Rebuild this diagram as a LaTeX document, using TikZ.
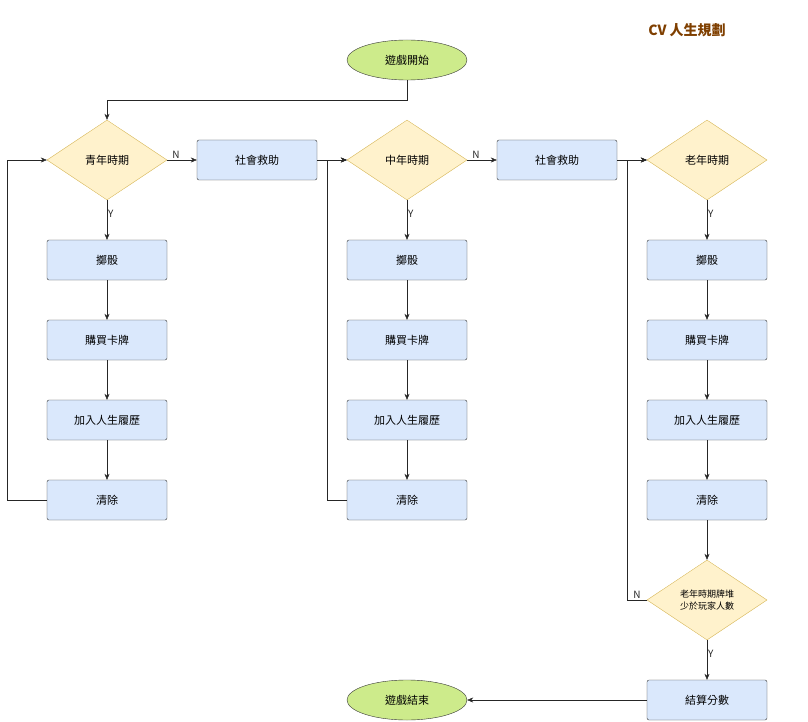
\documentclass[tikz,border=0pt]{standalone}
\usepackage{fontspec}
\setmainfont{Noto Sans CJK TC}
\usetikzlibrary{shapes.geometric,arrows.meta}
\begin{document}
\begin{tikzpicture}[x=1pt,y=-1pt,
  box/.style={draw=black!80,fill=blue!12!cyan!8,fill={rgb,255:red,218;green,232;blue,252},rounded corners=2pt,minimum width=120pt,minimum height=40pt,inner sep=0pt,font=\fontsize{11}{13}\selectfont},
  dia/.style={diamond,aspect=1.5,draw={rgb,255:red,214;green,182;blue,86},fill={rgb,255:red,255;green,242;blue,204},minimum width=120pt,minimum height=80pt,inner sep=0pt,font=\fontsize{11}{13}\selectfont},
  term/.style={ellipse,draw=black!80,fill={rgb,255:red,205;green,235;blue,139},minimum width=120pt,minimum height=40pt,inner sep=0pt,font=\fontsize{11}{13}\selectfont},
  arr/.style={-{Stealth[length=6pt,width=5pt]},black!85},
  lbl/.style={font=\fontsize{10}{12}\selectfont,inner sep=1pt}]
\useasboundingbox (0,0) rectangle (808,722);
\node[font=\bfseries\fontsize{14}{16}\selectfont,text={rgb,255:red,127;green,63;blue,0}] (title) at (687,30) {CV 人生規劃};
\node[term] (start) at (407,60) {遊戲開始};
\node[dia] (d1) at (107,160) {青年時期};
\node[dia] (d2) at (407,160) {中年時期};
\node[dia] (d3) at (707,160) {老年時期};
\node[box] (s1) at (257,160) {社會救助};
\node[box] (s2) at (557,160) {社會救助};
\foreach \c/\x in {a/107,b/407,c/707}{
  \node[box] (r1\c) at (\x,260) {擲骰};
  \node[box] (r2\c) at (\x,340) {購買卡牌};
  \node[box] (r3\c) at (\x,420) {加入人生履歷};
  \node[box] (r4\c) at (\x,500) {清除};
  \draw[arr] (r1\c) -- (r2\c);
  \draw[arr] (r2\c) -- (r3\c);
  \draw[arr] (r3\c) -- (r4\c);
}
\node[dia,font=\fontsize{9}{12}\selectfont,align=center] (d4) at (707,600) {老年時期牌堆\\少於玩家人數};
\node[box] (fin) at (707,700) {結算分數};
\node[term] (end) at (407,700) {遊戲結束};
\draw[arr] (start.south) |- (107,100) -- (d1.north);
\draw[arr] (d1) -- node[lbl,pos=0.3,above] {N} (s1);
\draw[arr] (s1) -- (d2);
\draw[arr] (d2) -- node[lbl,pos=0.3,above] {N} (s2);
\draw[arr] (s2) -- (d3);
\draw[arr] (d1) -- node[lbl,pos=0.35,right] {Y} (r1a);
\draw[arr] (d2) -- node[lbl,pos=0.35,right] {Y} (r1b);
\draw[arr] (d3) -- node[lbl,pos=0.35,right] {Y} (r1c);
\draw[arr] (r4a.west) -- (7,500) |- (d1.west);
\draw[arr] (r4b.west) -- (327,500) |- (d2.west);
\draw[arr] (r4c) -- (d4);
\draw[arr] (d4.west) -- node[lbl,pos=0.5,above] {N} (627,600) |- (d3.west);
\draw[arr] (d4) -- node[lbl,pos=0.35,right] {Y} (fin);
\draw[arr] (fin) -- (end);
\end{tikzpicture}
\end{document}
